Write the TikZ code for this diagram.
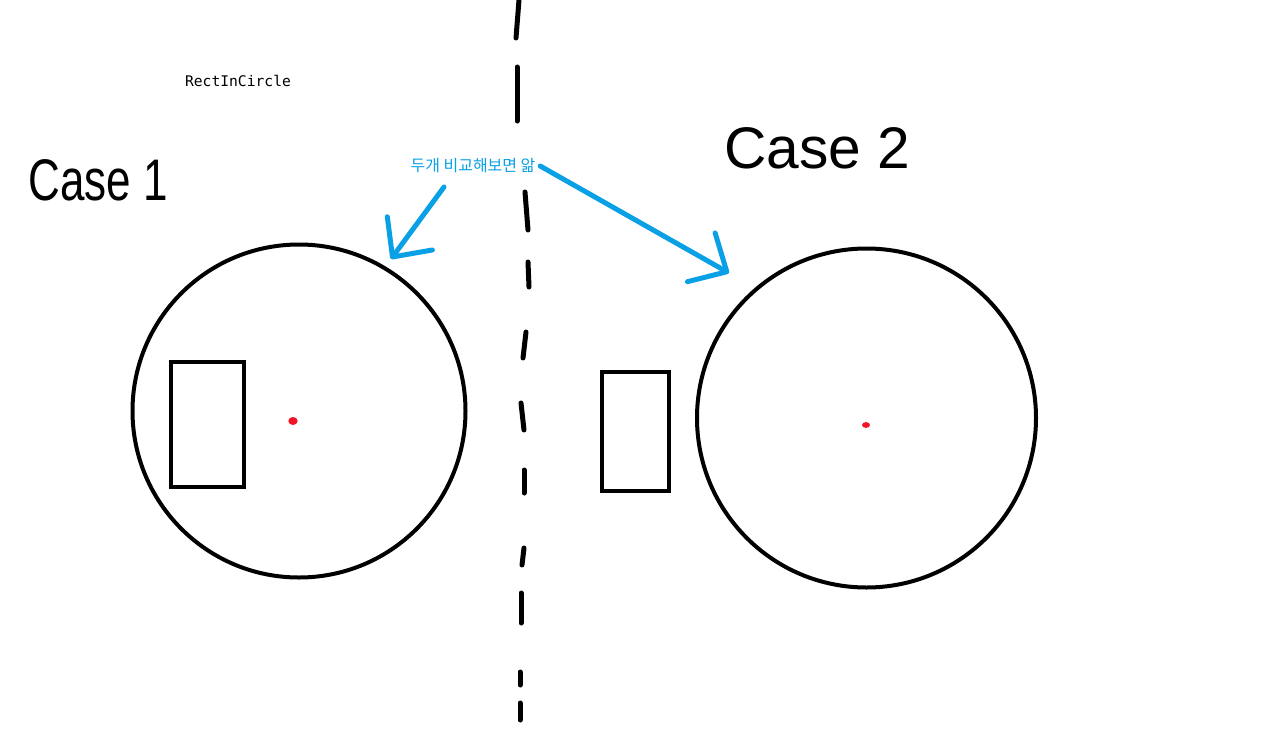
\documentclass[tikz,border=0pt]{standalone}
\usepackage{fontspec}
\usepackage{tikz}
\usetikzlibrary{arrows.meta,positioning}
\setsansfont{Liberation Sans}
\newfontfamily\krfont{Noto Sans CJK KR}
\newfontfamily\codefont{DejaVu Sans Mono}
\definecolor{notecyan}{HTML}{0AA0E6}
\definecolor{dotred}{HTML}{F01424}

\begin{document}
\begin{tikzpicture}[x=0.75pt,y=-0.75pt,
    ring/.style     = {circle, draw=black, line width=3pt, inner sep=0pt},
    box/.style      = {rectangle, draw=black, line width=3pt, inner sep=0pt},
    casetext/.style = {font=\sffamily\fontsize{44}{44}\selectfont, inner sep=0pt},
    cut/.style      = {line width=3.75pt, line cap=round},
    pointer/.style  = {-{Straight Barb[length=22pt,width=42pt,round]},
                       line width=3.75pt, line cap=round, notecyan},
    centre/.style   = {fill=dotred, draw=none},
]
  \useasboundingbox (0,0) rectangle (1261,739);

  % titles
  \node[font=\codefont\fontsize{11}{13}\selectfont] (title) at (238,81) {RectInCircle};
  \node[casetext, xscale=0.75] (case1) at (98,180) {Case 1};
  \node[casetext] (case2) at (817,148) {Case 2};
  \node[font=\krfont\fontsize{12}{14}\selectfont, text=notecyan] (note) at (473,166)
      {두개 비교해보면 앎};

  % case 1
  \node[ring, minimum size=249.75pt] (circ1) at (299,411) {};
  \node[box, minimum width=54.75pt, minimum height=93.75pt] (rect1) at (207.5,424.5) {};
  \fill[centre] (293,421) ellipse (3.5pt and 3pt);

  % case 2
  \node[ring, minimum size=254.25pt] (circ2) at (866.5,418) {};
  \node[box, minimum width=50.25pt, minimum height=89.25pt] (rect2) at (635.5,431.5) {};
  \fill[centre] (866,425) ellipse (3pt and 2.2pt);

  % divider
  \foreach \xa/\ya/\xb/\yb in {519/0/516/38, 517/67/517/121, 525/192/528/230,
      528/262/529/287, 526/332/523/358, 521/403/524/430, 524/470/524/493,
      524/548/522/565, 521/593/521/623, 520/672/520/685, 520/703/520/720}
    \draw[cut] (\xa,\ya) -- (\xb,\yb);

  % pointers
  \coordinate (tail1) at (444,187);
  \coordinate (tip1) at (391,259);
  \coordinate (tip2) at (729,273);
  \draw[pointer] (tail1) -- (tip1);
  \draw[pointer] (note.east) -- (tip2);

\end{tikzpicture}
\end{document}
